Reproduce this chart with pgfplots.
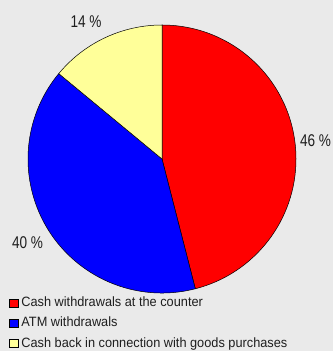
\documentclass[border=0pt]{standalone}
\usepackage{pgfplots}
\pgfplotsset{compat=1.18}
\usepackage{pgfplotstable}
\usepackage{fontspec}
\setmainfont{Liberation Sans}
\definecolor{bg}{RGB}{234,234,234}
\definecolor{pieyellow}{RGB}{255,255,153}
\definecolor{piered}{RGB}{255,0,0}
\definecolor{pieblue}{RGB}{0,0,255}
\definecolor{txt}{RGB}{30,30,30}
\pgfplotstableread{
share
46
40
14
}\piedata
\newcommand{\legtxt}[1]{\scalebox{0.945}[1]{#1}}
\newcommand{\pcttxt}[1]{\scalebox{0.8}[1]{#1}}
\begin{document}
\begin{tikzpicture}
\pgfplotstablegetelem{0}{share}\of\piedata \let\sA\pgfplotsretval
\pgfplotstablegetelem{1}{share}\of\piedata \let\sB\pgfplotsretval
\pgfplotstablegetelem{2}{share}\of\piedata \let\sC\pgfplotsretval
\pgfmathsetmacro{\angA}{90}
\pgfmathsetmacro{\angB}{90-3.6*\sA}
\pgfmathsetmacro{\angC}{\angB-3.6*\sB}
\pgfmathsetmacro{\angD}{\angC-3.6*\sC}
\fill[bg] (0,0) rectangle (333bp,351bp);
\begin{axis}[
  width=333bp, height=351bp, scale only axis,
  xmin=0, xmax=333, ymin=0, ymax=351,
  hide axis, clip=false,
  legend style={at={(9/333,54.5/351)}, anchor=north west, draw=none, fill=none,
    font=\fontsize{13.5bp}{15bp}\selectfont\color{txt}, row sep=7.3bp,
    inner sep=0pt, outer sep=0pt,
    nodes={inner sep=0pt, text height=10bp, text depth=3bp},
    cells={anchor=west}},
  legend image code/.code={\draw[#1, draw=black, line width=0.4pt] (0bp,-4bp) rectangle (9bp,4bp);},
]
\fill[piered, draw=black, line width=0.5pt] (axis cs:162,192) -- ++(\angA:134bp) arc[start angle=\angA, end angle=\angB, radius=134bp] -- cycle;
\fill[pieblue, draw=black, line width=0.5pt] (axis cs:162,192) -- ++(\angB:134bp) arc[start angle=\angB, end angle=\angC, radius=134bp] -- cycle;
\fill[pieyellow, draw=black, line width=0.5pt] (axis cs:162,192) -- ++(\angC:134bp) arc[start angle=\angC, end angle=\angD, radius=134bp] -- cycle;
\node[font=\fontsize{17bp}{18bp}\selectfont, text=txt] at (axis cs:315.5,210) {\pcttxt{\sA\ \%}};
\node[font=\fontsize{17bp}{18bp}\selectfont, text=txt] at (axis cs:27.5,108) {\pcttxt{\sB\ \%}};
\node[font=\fontsize{17bp}{18bp}\selectfont, text=txt] at (axis cs:86,329) {\pcttxt{\sC\ \%}};
\addlegendimage{fill=piered}
\addlegendentry{\hspace{3bp}\legtxt{Cash withdrawals at the counter}}
\addlegendimage{fill=pieblue}
\addlegendentry{\hspace{3bp}\legtxt{ATM withdrawals}}
\addlegendimage{fill=pieyellow}
\addlegendentry{\hspace{3bp}\legtxt{Cash back in connection with goods purchases}}
\end{axis}
\end{tikzpicture}
\end{document}
